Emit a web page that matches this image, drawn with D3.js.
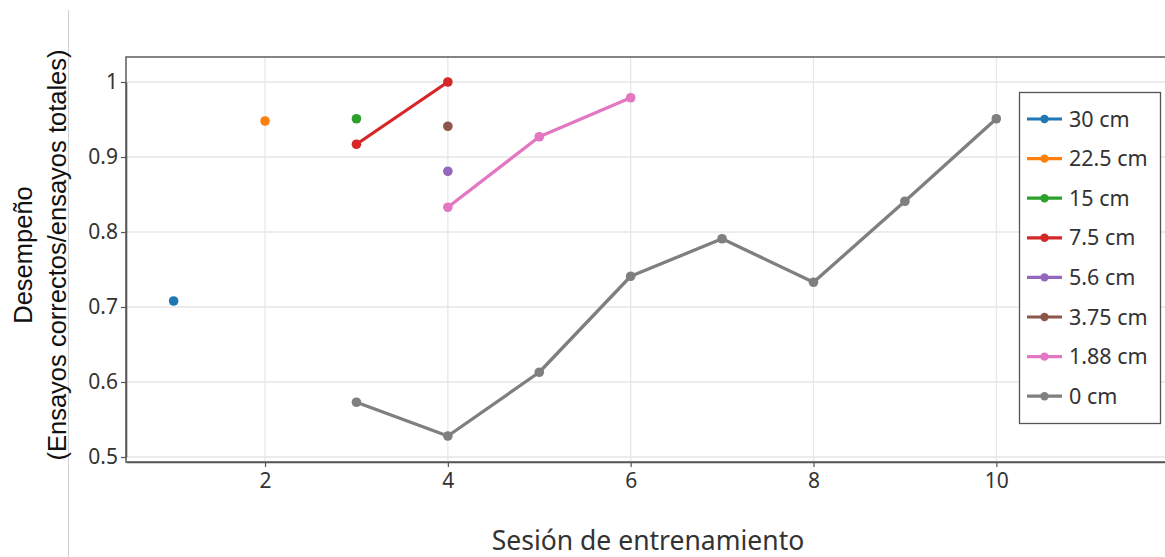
<!DOCTYPE html>
<html><head><meta charset="utf-8">
<script src="https://cdn.jsdelivr.net/npm/d3@7"></script>
<style>body{margin:0;background:#fff;} svg{display:block;}</style>
</head><body>
<svg id="c" width="1165" height="557"></svg>
<script>
const seriesNames = ["30 cm","22.5 cm","15 cm","7.5 cm","5.6 cm","3.75 cm","1.88 cm","0 cm"];
const colors = ["#1f77b4","#ff7f0e","#2ca02c","#d62728","#9467bd","#8c564b","#e377c2","#7f7f7f"];
const s30 = [[1,0.708]];
const s22 = [[2,0.948]];
const s15 = [[3,0.951]];
const s75 = [[3,0.917],[4,1.0]];
const s56 = [[4,0.881]];
const s375 = [[4,0.941]];
const s188 = [[4,0.833],[5,0.927],[6,0.979]];
const s0 = [[3,0.573],[4,0.528],[5,0.613],[6,0.741],[7,0.791],[8,0.733],[9,0.841],[10,0.951]];
const seriesData = [s30,s22,s15,s75,s56,s375,s188,s0];
const xTicks = [2,4,6,8,10];
const yTicks = [0.5,0.6,0.7,0.8,0.9,1];

const svg = d3.select("#c");
const L=126, T=57, R=1170, B=462;
const x = d3.scaleLinear().domain([0.479,11.9]).range([L,R]);
const y = d3.scaleLinear().domain([0.5,1]).range([457,82]);

// page border line
svg.append("line").attr("x1",68.5).attr("x2",68.5).attr("y1",10).attr("y2",557).attr("stroke","#d0d0d0").attr("stroke-width",1);

// grid
svg.append("g").selectAll("line").data(xTicks).join("line")
  .attr("x1",d=>x(d)).attr("x2",d=>x(d)).attr("y1",T).attr("y2",B)
  .attr("stroke","#e6e6e6").attr("stroke-width",1.2);
svg.append("g").selectAll("line").data(yTicks).join("line")
  .attr("x1",L).attr("x2",R).attr("y1",d=>y(d)).attr("y2",d=>y(d))
  .attr("stroke","#e6e6e6").attr("stroke-width",1.5);

// frame
svg.append("rect").attr("x",L).attr("y",T).attr("width",R-L).attr("height",B-T)
  .attr("fill","none").attr("stroke","#666").attr("stroke-width",1.6);

// axes
const fontT = "'Noto Sans', 'Open Sans', sans-serif";
const ya = svg.append("g").attr("transform",`translate(${L},0)`)
  .call(d3.axisLeft(y).tickValues(yTicks).tickSize(5).tickSizeOuter(0).tickPadding(3).tickFormat(d=>d3.format("")(d)));
const xa = svg.append("g").attr("transform",`translate(0,${B})`)
  .call(d3.axisBottom(x).tickValues(xTicks).tickSize(5).tickSizeOuter(0).tickPadding(6));
[ya,xa].forEach(a=>{
  a.select(".domain").attr("stroke","#555").attr("stroke-width",1.6);
  a.selectAll(".tick line").attr("stroke","#555").attr("stroke-width",1.2);
  a.selectAll("text").attr("font-family",fontT).attr("font-size",21).attr("fill","#333");
});

// lines and points
const line = d3.line().x(d=>x(d[0])).y(d=>y(d[1]));
seriesData.forEach((s,i)=>{
  if(s.length>1){
    svg.append("path").datum(s).attr("d",line).attr("fill","none")
      .attr("stroke",colors[i]).attr("stroke-width",3.3).attr("stroke-linejoin","round");
  }
  svg.append("g").selectAll("circle").data(s).join("circle")
    .attr("cx",d=>x(d[0])).attr("cy",d=>y(d[1])).attr("r",4.8).attr("fill",colors[i]);
});

// legend
const lg = svg.append("g");
lg.append("rect").attr("x",1019.5).attr("y",92.5).attr("width",141).attr("height",331)
  .attr("fill","#fff").attr("stroke","#555").attr("stroke-width",1.3);
seriesNames.forEach((n,i)=>{
  const yy = 119 + i*39.6;
  lg.append("line").attr("x1",1027).attr("x2",1062).attr("y1",yy).attr("y2",yy)
    .attr("stroke",colors[i]).attr("stroke-width",3.2);
  lg.append("circle").attr("cx",1044.5).attr("cy",yy).attr("r",4.2).attr("fill",colors[i]);
  lg.append("text").attr("x",1069).attr("y",yy).attr("dy","0.35em")
    .attr("font-family",fontT).attr("font-size",21.5).attr("fill","#333").text(n);
});

// axis titles
svg.append("text").attr("x",648).attr("y",550).attr("text-anchor","middle")
  .attr("font-family",fontT).attr("font-size",26.5).attr("fill","#333").text("Sesión de entrenamiento");
const yt = svg.append("text").attr("transform","translate(0,255) rotate(-90)")
  .attr("text-anchor","middle").attr("font-family","'Liberation Sans', Arial, sans-serif")
  .attr("font-size",25.5).attr("fill","#111");
yt.append("tspan").attr("x",0).attr("y",32).text("Desempeño");
yt.append("tspan").attr("x",0).attr("y",66).text("(Ensayos correctos/ensayos totales)");
</script>
</body></html>
